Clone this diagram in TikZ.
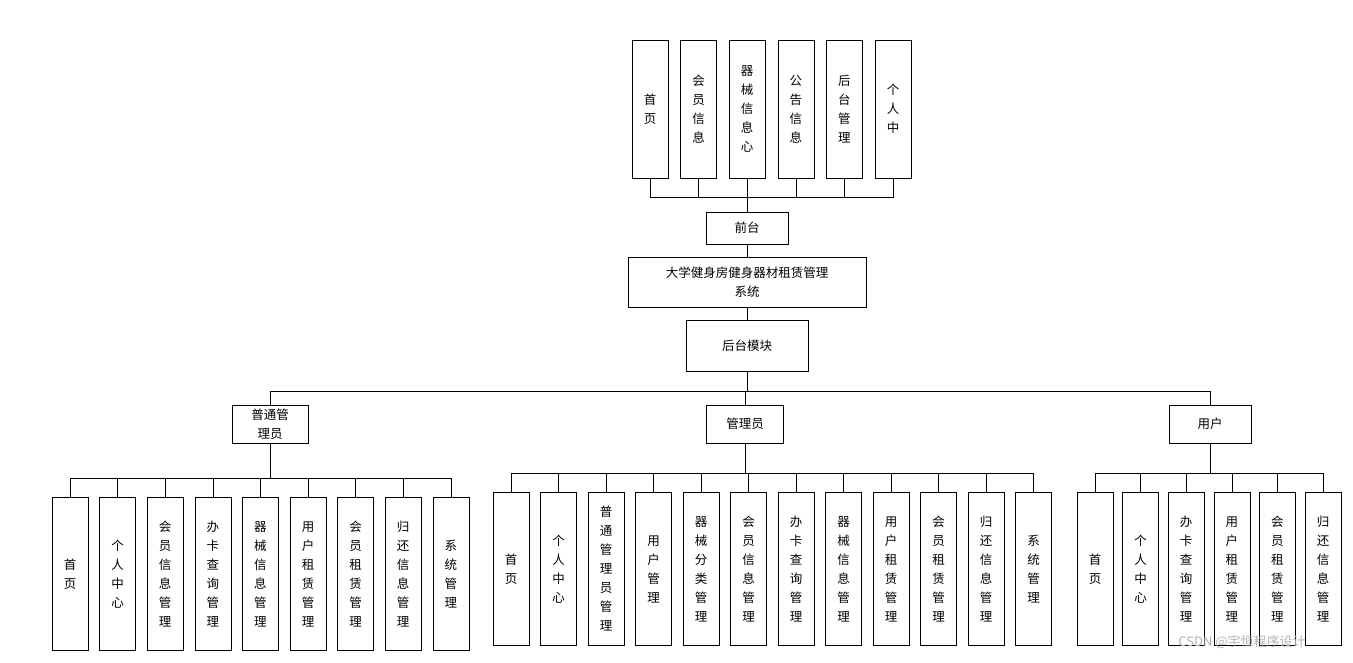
\documentclass[tikz,border=0pt]{standalone}
\usepackage{fontspec}
\setmainfont{Noto Sans CJK SC}
\usetikzlibrary{positioning}
\tikzset{>=latex}
\begin{document}
\begin{tikzpicture}[x=1pt,y=-1pt,
    every node/.style={draw=black, font=\fontsize{12.5}{19}\selectfont, inner sep=0pt},
    vbox/.style={minimum width=36pt, minimum height=#1pt, align=center},
    hbox/.style={minimum height=#1pt, align=center},
    link/.style={black, thin}]
  \useasboundingbox (0,0) rectangle (1353,662);
  % front modules
  \foreach \t [count=\i] in {{首\\页},{会\\员\\信\\息},{器\\械\\信\\息\\心},{公\\告\\信\\息},{后\\台\\管\\理},{个\\人\\中}}
    \node[vbox=138] (f\i) at ({650+48.6*(\i-1)},109) {\t};
  \node[hbox=32, minimum width=82pt] (front) at (747,228) {前台};
  \node[hbox=50, minimum width=238pt, text width=230pt] (sys) at (747,282) {大学健身房健身器材租赁管理\\系统};
  \node[hbox=51, minimum width=122pt] (back) at (747,346) {后台模块};
  \node[hbox=38, minimum width=76pt] (r1) at (270,424) {普通管\\理员};
  \node[hbox=38, minimum width=77pt] (r2) at (745,424) {管理员};
  \node[hbox=38, minimum width=82pt] (r3) at (1210,424) {用户};
  \foreach \i in {1,...,6}
    \draw[link] (f\i.south) -- ++(0,19) -| (front.north);
  \draw[link] (front) -- (sys);
  \draw[link] (sys) -- (back);
  \foreach \r in {r1,r2,r3}
    \draw[link] (back.south) -- ++(0,19) -| (\r.north);
  % admin-lite modules
  \foreach \t [count=\i] in {{首\\页},{个\\人\\中\\心},{会\\员\\信\\息\\管\\理},{办\\卡\\查\\询\\管\\理},{器\\械\\信\\息\\管\\理},{用\\户\\租\\赁\\管\\理},{会\\员\\租\\赁\\管\\理},{归\\还\\信\\息\\管\\理},{系\\统\\管\\理}}
  {
    \node[vbox=153] (a\i) at ({70+47.6*(\i-1)},574) {\t};
    \draw[link] (r1.south) -- ++(0,35) -| (a\i.north);
  }
  % admin modules
  \foreach \t [count=\i] in {{首\\页},{个\\人\\中\\心},{普\\通\\管\\理\\员\\管\\理},{用\\户\\管\\理},{器\\械\\分\\类\\管\\理},{会\\员\\信\\息\\管\\理},{办\\卡\\查\\询\\管\\理},{器\\械\\信\\息\\管\\理},{用\\户\\租\\赁\\管\\理},{会\\员\\租\\赁\\管\\理},{归\\还\\信\\息\\管\\理},{系\\统\\管\\理}}
  {
    \node[vbox=153] (m\i) at ({511+47.5*(\i-1)},569) {\t};
    \draw[link] (r2.south) -- ++(0,30) -| (m\i.north);
  }
  % user modules
  \foreach \t [count=\i] in {{首\\页},{个\\人\\中\\心},{办\\卡\\查\\询\\管\\理},{用\\户\\租\\赁\\管\\理},{会\\员\\租\\赁\\管\\理},{归\\还\\信\\息\\管\\理}}
  {
    \node[vbox=153] (u\i) at ({1095+45.6*(\i-1)},569) {\t};
    \draw[link] (r3.south) -- ++(0,30) -| (u\i.north);
  }
  \node[draw=none, text=gray!60, font=\fontsize{13}{15}\selectfont] (mark) at (1242,642) {CSDN @宇恒程序设计};
\end{tikzpicture}
\end{document}
